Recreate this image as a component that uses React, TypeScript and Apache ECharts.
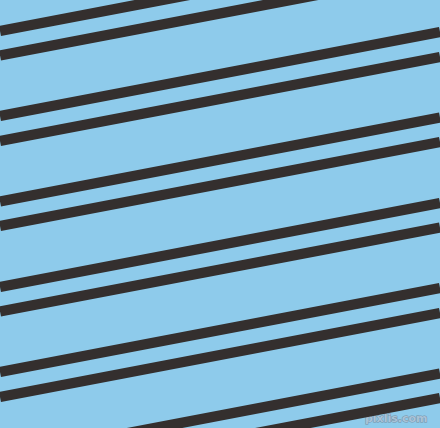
import { useEffect, useRef } from 'react';
import * as echarts from 'echarts';

const W = 440;
const H = 428;

// stripe y position where it crosses the left edge (x = 0) and the right edge (x = 440)
const leftY = [-55, -30, 31, 55.5, 116, 141, 201.5, 226, 287, 311.5, 372, 397, 457.5, 482];
const rightY = [-139, -114, -53, -28.5, 32, 57, 117.5, 142, 203, 227.5, 288, 313, 373.5, 398];

const BG = '#8ecbeb';
const STRIPE = '#342f2e';

export default function App() {
  const ref = useRef<HTMLDivElement>(null);

  useEffect(() => {
    if (!ref.current) return;
    const chart = echarts.init(ref.current, undefined, { renderer: 'svg' });

    const series = leftY.map((y0, i) => ({
      type: 'line',
      data: [
        [0, y0],
        [W, rightY[i]],
      ],
      symbol: 'none',
      clip: true,
      silent: true,
      lineStyle: { color: STRIPE, width: 10.4, cap: 'butt' },
    }));

    chart.setOption({
      animation: false,
      backgroundColor: BG,
      grid: { left: 0, right: 0, top: 0, bottom: 0 },
      xAxis: { type: 'value', min: 0, max: W, show: false },
      yAxis: { type: 'value', min: 0, max: H, inverse: true, show: false },
      series,
      graphic: [
        {
          type: 'text',
          right: 12,
          bottom: 4,
          style: {
            text: 'pixlis.com',
            fontFamily: 'DejaVu Sans',
            fontSize: 11,
            fontWeight: 'bold',
            fill: '#a9c3d8',
            stroke: '#7890a4',
            lineWidth: 1,
          },
        },
      ],
    });

    return () => chart.dispose();
  }, []);

  return (
    <div
      ref={ref}
      style={{ position: 'fixed', left: 0, top: 0, width: W, height: H }}
    />
  );
}
